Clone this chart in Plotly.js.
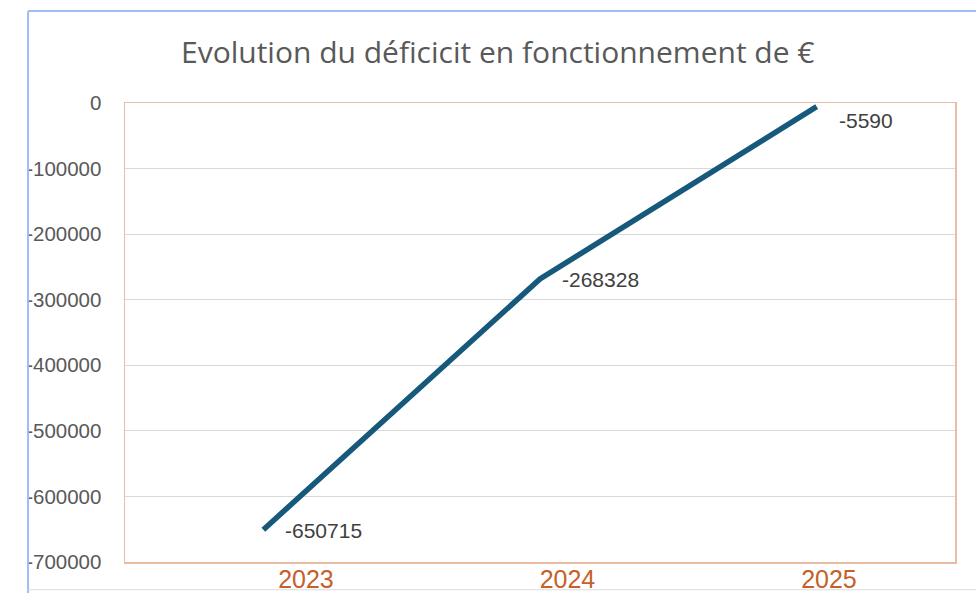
<!DOCTYPE html>
<html>
<head>
<meta charset="utf-8">
<script src="https://cdn.plot.ly/plotly-3.0.1.min.js"></script>
<style>
  html, body { margin: 0; padding: 0; background: #fff; }
  #chart { width: 976px; height: 593px; }
</style>
</head>
<body>
<div id="chart"></div>
<script>
// values
const years = ['2023', '2024', '2025'];
const deficit = [-650715, -268328, -5590];
const yTickVals = [0, -100000, -200000, -300000, -400000, -500000, -600000, -700000];
const yTickText = ['0', '-100000', '-200000', '-300000', '-400000', '-500000', '-600000', '-700000'];

const lineColor = '#17597a';
const frameColor = '#ebbca4';
const yearColor = '#c5602a';

let trace = {
  x: years,
  y: deficit,
  type: 'scatter',
  mode: 'lines',
  line: { color: lineColor, width: 5.5 },
  hoverinfo: 'skip'
};

// invisible companion trace so the year axis gets drawn
let yearTrace = {
  x: years.map((y, i) => i),
  y: deficit,
  xaxis: 'x2',
  yaxis: 'y',
  type: 'scatter',
  mode: 'markers',
  marker: { opacity: 0 },
  hoverinfo: 'skip'
};

// data labels to the right of each point, pushed down when too close to the top
let labels = deficit.map((v, i) => ({
  xref: 'x',
  yref: 'y',
  x: i,
  y: v,
  text: String(v),
  showarrow: false,
  xanchor: 'left',
  yanchor: 'middle',
  xshift: 20,
  yshift: v > -50000 ? -14 : -1,
  font: { family: 'Liberation Sans, Arial, sans-serif', size: 21, color: '#404040' }
}));

let layout = {
  width: 976,
  height: 593,
  margin: { l: 125, r: 21, t: 103, b: 31 },
  paper_bgcolor: '#ffffff',
  plot_bgcolor: '#ffffff',
  showlegend: false,
  title: {
    text: 'Evolution du déficicit en fonctionnement de €',
    x: 0.51,
    xanchor: 'center',
    y: 0.912,
    yanchor: 'middle',
    yref: 'container',
    font: { family: 'Open Sans, sans-serif', size: 30, color: '#595959' }
  },
  xaxis: {
    type: 'category',
    range: [-0.5, 2.5],
    showticklabels: false,
    showgrid: false,
    zeroline: false,
    showline: true,
    mirror: true,
    linecolor: frameColor,
    linewidth: 1.5,
    ticks: ''
  },
  // year labels sit a bit off the points in the original, so they get their own axis
  xaxis2: {
    overlaying: 'x',
    side: 'bottom',
    anchor: 'y',
    type: 'linear',
    range: [-0.692, 2.482],
    tickvals: [0, 1, 2],
    ticktext: years,
    showgrid: false,
    zeroline: false,
    showline: false,
    ticks: '',
    tickfont: { family: 'Liberation Sans, Arial, sans-serif', size: 25, color: yearColor }
  },
  yaxis: {
    range: [-700000, 0],
    tickvals: yTickVals,
    ticktext: yTickText,
    showgrid: true,
    gridcolor: '#d9d9d9',
    gridwidth: 1,
    zeroline: false,
    showline: true,
    mirror: true,
    linecolor: frameColor,
    linewidth: 1.5,
    ticks: '',
    ticklabelstandoff: 18,
    tickfont: { family: 'Liberation Sans, Arial, sans-serif', size: 20.5, color: '#595959' }
  },
  annotations: labels,
  shapes: [
    // spreadsheet selection frame and cell lines behind the chart
    { type: 'line', xref: 'paper', yref: 'paper', x0: -0.1168, x1: -0.1168, y0: -0.07, y1: 1.2, line: { color: '#9dbcf2', width: 2 } },
    { type: 'line', xref: 'paper', yref: 'paper', x0: -0.1168, x1: 1.03, y0: 1.2004, y1: 1.2004, line: { color: '#9dbcf2', width: 2 } },
    { type: 'line', xref: 'paper', yref: 'paper', x0: -0.1168, x1: 1.03, y0: -0.0605, y1: -0.0605, line: { color: '#dcdcdc', width: 1 } }
  ]
};

Plotly.newPlot('chart', [trace, yearTrace], layout, { displayModeBar: false, staticPlot: true });
</script>
</body>
</html>
